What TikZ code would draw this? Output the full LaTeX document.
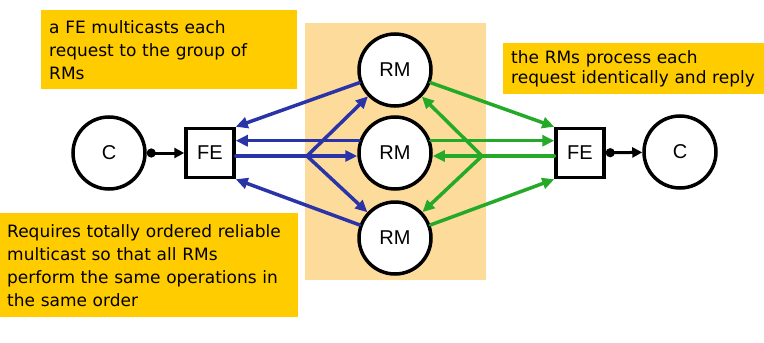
\documentclass[tikz,border=0pt]{standalone}
\usepackage{fontspec}
\setmainfont{Liberation Sans}
\newfontfamily\notefont{DejaVu Sans}
\usetikzlibrary{arrows.meta}

\definecolor{noteyellow}{RGB}{255,204,0}
\definecolor{groupshade}{RGB}{253,219,155}
\definecolor{reqblue}{RGB}{42,52,168}
\definecolor{replygreen}{RGB}{36,170,40}

\begin{document}
\begin{tikzpicture}[x=1pt, y=-1pt, >={Triangle[length=12pt,width=11pt]},
  proc/.style={circle, draw, line width=3.5pt, fill=white, minimum size=72pt, inner sep=0pt,
    font=\fontsize{20}{24}\selectfont},
  fe/.style={rectangle, draw, line width=3.5pt, fill=white, minimum width=48pt, minimum height=49pt,
    inner sep=0pt, font=\fontsize{20}{24}\selectfont},
  note/.style={fill=noteyellow, inner xsep=8pt, inner ysep=0pt, align=left, anchor=north west,
    font=\notefont\fontsize{17}{23}\selectfont},
  req/.style={reqblue, line width=3.5pt, line cap=round},
  rep/.style={replygreen, line width=3.5pt, line cap=round},
  link/.style={line width=3pt, {Circle[length=9pt]}-{Triangle[length=10pt,width=10pt]}}]
\useasboundingbox (0,0) rectangle (764,343);

% the group of replica managers
\fill[groupshade] (305,23) rectangle (486,280);

% notes
\node[note, text width=240pt, minimum height=79pt] (noteA) at (41,10)
  {a FE multicasts each\\request to the group of\\RMs};
\node[note, inner xsep=7pt, text width=284pt, minimum height=104pt] (noteB) at (0,213)
  {Requires totally ordered reliable\\multicast so that all RMs\\perform the same operations in\\the same order};
\node[note, text width=245pt, minimum height=51pt,
  font=\notefont\fontsize{17}{20}\selectfont] (noteC) at (503,43)
  {the RMs process each\\request identically and reply};

% clients, front ends, RMs
\node[proc] (cL) at (109,153) {C};
\node[fe] (feL) at (210,153) {FE};
\foreach \i/\y in {1/70,2/153,3/238}
  \node[proc] (rm\i) at (395,\y) {RM};
\node[fe] (feR) at (580,153) {FE};
\node[proc] (cR) at (680,152) {C};

\coordinate (fanL) at (307,156);
\coordinate (fanR) at (482,156);

% C <-> FE
\draw[link] (cL) -- (feL);
\draw[link] (feR) -- (cR);

% left FE: multicast out, replies back
\draw[req] (feL.east |- fanL) -- (fanL);
\draw[req,->] (fanL) -- (rm1);
\draw[req,->] (fanL) -- (fanL -| rm2.west);
\draw[req,->] (fanL) -- (rm3);
\draw[req,->] (rm1) -- (feL.north east);
\draw[req,->] (rm2.161) -- (rm2.161 -| feL.east);
\draw[req,->] (rm3) -- (feL.south east);

% right FE: same thing mirrored
\draw[rep] (feR.west |- fanR) -- (fanR);
\draw[rep,->] (fanR) -- (rm1);
\draw[rep,->] (fanR) -- (fanR -| rm2.east);
\draw[rep,->] (fanR) -- (rm3);
\draw[rep,->] (rm1) -- (feR.north west);
\draw[rep,->] (rm2.19) -- (rm2.19 -| feR.west);
\draw[rep,->] (rm3) -- (feR.south west);
\end{tikzpicture}
\end{document}
